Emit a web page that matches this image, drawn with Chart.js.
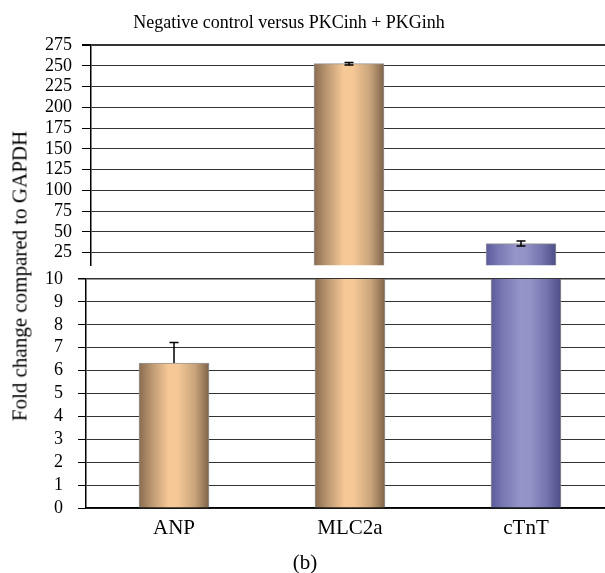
<!DOCTYPE html>
<html><head><meta charset="utf-8">
<script src="https://cdn.jsdelivr.net/npm/chart.js@4.4.0/dist/chart.umd.min.js"></script>
<style>
html,body{margin:0;padding:0;width:605px;height:573px;overflow:hidden;background:#fff;font-family:"Liberation Serif",serif;}
#c1{position:absolute;left:0;top:0;}
#c2{position:absolute;left:0;top:240px;}
.t{position:absolute;color:#000;white-space:nowrap;font-family:"Liberation Serif","Times New Roman",serif;}
#title{left:289px;top:13px;font-size:18px;line-height:18px;transform:translateX(-50%);}
#ylab{left:20px;top:276px;font-size:21px;line-height:21px;transform:translate(-50%,-50%) rotate(-90deg);}
#cap{left:305px;top:552px;font-size:21px;line-height:21px;transform:translateX(-50%);}
</style></head><body>
<canvas id="c1" width="607" height="286"></canvas>
<canvas id="c2" width="614" height="333"></canvas>
<div class="t" id="title">Negative control versus PKCinh + PKGinh</div>
<div class="t" id="ylab">Fold change compared to GAPDH</div>
<div class="t" id="cap">(b)</div>
<script>
// ---- data ----
const CATEGORIES = ['ANP', 'MLC2a', 'cTnT'];
const VALUES = [6.33, 252.5, 36];
const ERR_PLUS = [0.9, 1.5, 3];
const ERR_MINUS = [0, 1.5, 3];
const TOP_TICKS = [25, 50, 75, 100, 125, 150, 175, 200, 225, 250, 275];
const BOTTOM_TICKS = [0, 1, 2, 3, 4, 5, 6, 7, 8, 9, 10];
const TOP_RANGE = [10, 275];
const BOTTOM_RANGE = [0, 10];

// ---- style ----
const FONT = '"Liberation Serif", "Times New Roman", serif';
const BAR_W = 70;
const BAR_STYLE = ['tan', 'tan', 'blue'];
const PALETTES = {
  tan: [[0, '#896c50'], [0.17, '#b8956f'], [0.42, '#f6c896'], [0.56, '#f5c795'], [0.8, '#c8a47b'], [1, '#7e6349']],
  blue: [[0, '#5b5b9d'], [0.17, '#7878b3'], [0.42, '#9595c9'], [0.56, '#9393c7'], [0.8, '#7373ae'], [1, '#4d4d87']]
};

function barFill(c) {
  const chart = c.chart, xs = chart.scales && chart.scales.x;
  const i = c.dataIndex;
  const pal = PALETTES[BAR_STYLE[i] || 'tan'];
  if (i === undefined || !xs || !xs.width) return pal[2][1];
  const cx = xs.getPixelForValue(i);
  const g = chart.ctx.createLinearGradient(cx - BAR_W / 2, 0, cx + BAR_W / 2, 0);
  pal.forEach(s => g.addColorStop(s[0], s[1]));
  return g;
}

const errorBars = {
  id: 'errorBars',
  afterDatasetsDraw(chart) {
    const {ctx, chartArea: a, scales: {x, y}} = chart;
    ctx.save();
    ctx.beginPath();
    ctx.rect(a.left, a.top, a.right - a.left, a.bottom - a.top);
    ctx.clip();
    ctx.strokeStyle = '#000';
    ctx.lineWidth = 1.5;
    VALUES.forEach((v, i) => {
      const cx = x.getPixelForValue(i);
      const yt = y.getPixelForValue(v + ERR_PLUS[i]);
      const yb = y.getPixelForValue(v - ERR_MINUS[i]);
      ctx.beginPath();
      ctx.moveTo(cx, yb); ctx.lineTo(cx, yt);
      ctx.moveTo(cx - 4.5, yt); ctx.lineTo(cx + 4.5, yt);
      if (ERR_MINUS[i] > 0) { ctx.moveTo(cx - 4.5, yb); ctx.lineTo(cx + 4.5, yb); }
      ctx.stroke();
    });
    ctx.restore();
  }
};

function dataset() {
  return {
    data: VALUES,
    backgroundColor: barFill,
    borderColor: 'rgba(140,140,140,0.9)',
    borderWidth: 1,
    barThickness: BAR_W
  };
}

const common = {
  responsive: false,
  animation: false,
  events: [],
  plugins: {legend: {display: false}, tooltip: {enabled: false}}
};

new Chart(document.getElementById('c1'), {
  type: 'bar',
  data: {labels: CATEGORIES, datasets: [dataset()]},
  options: Object.assign({}, common, {
    layout: {padding: {top: 45, bottom: 0, left: 0, right: 0}},
    scales: {
      x: {display: false, offset: true},
      y: {
        min: TOP_RANGE[0], max: TOP_RANGE[1],
        afterBuildTicks: s => { s.ticks = TOP_TICKS.map(v => ({value: v})); },
        afterFit: s => { s.width = 91; },
        grid: {color: '#333', tickColor: '#000', tickLength: 9,
               lineWidth: c => (c.tick && c.tick.value === TOP_RANGE[1]) ? 2 : 1},
        border: {color: '#000', width: 1.5},
        ticks: {autoSkip: false, padding: 10, color: '#000', font: {family: FONT, size: 18}}
      }
    }
  }),
  plugins: [errorBars]
});

new Chart(document.getElementById('c2'), {
  type: 'bar',
  data: {labels: CATEGORIES, datasets: [dataset()]},
  options: Object.assign({}, common, {
    layout: {padding: {top: 39, bottom: 0, left: 0, right: 0}},
    scales: {
      x: {
        offset: true,
        afterFit: s => { s.height = 65; },
        grid: {display: true, drawOnChartArea: false, drawTicks: false},
        border: {color: '#000', width: 1.5},
        ticks: {padding: 8, color: '#000', font: {family: FONT, size: 21}}
      },
      y: {
        min: BOTTOM_RANGE[0], max: BOTTOM_RANGE[1],
        afterBuildTicks: s => { s.ticks = BOTTOM_TICKS.map(v => ({value: v})); },
        afterFit: s => { s.width = 86; },
        grid: {color: '#333', tickColor: '#000', tickLength: 8,
               lineWidth: c => (c.tick && c.tick.value === BOTTOM_RANGE[1]) ? 1.5 : 1},
        border: {color: '#000', width: 1.5},
        ticks: {autoSkip: false, padding: 15, color: '#000', font: {family: FONT, size: 18}}
      }
    }
  }),
  plugins: [errorBars]
});
</script>
</body></html>
